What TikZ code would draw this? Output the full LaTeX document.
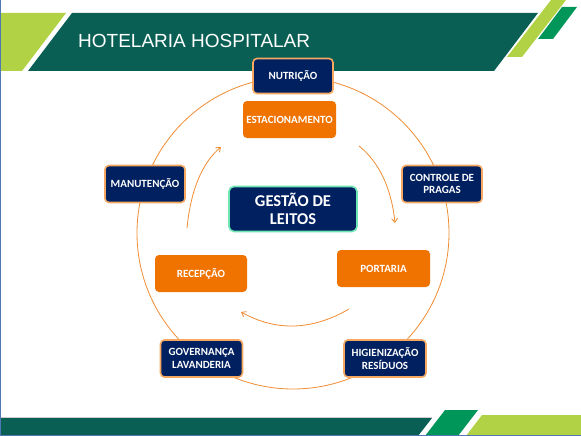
\documentclass[tikz,border=0pt]{standalone}
\usepackage{fontspec}
\setmainfont{Carlito}
\newfontfamily\titlefont{Liberation Sans}
\usetikzlibrary{arrows.meta}
\definecolor{teal}{RGB}{10,95,85}
\definecolor{lgreen}{RGB}{176,210,68}
\definecolor{bgreen}{RGB}{0,150,90}
\definecolor{navy}{RGB}{0,32,96}
\definecolor{orng}{RGB}{240,115,0}
\definecolor{oborder}{RGB}{246,168,96}
\definecolor{oline}{RGB}{240,140,50}
\definecolor{mint}{RGB}{110,230,180}
\definecolor{sblue}{RGB}{79,120,180}
\tikzset{
  navybox/.style={draw=oborder, line width=1.6pt, fill=navy, rounded corners=4pt,
    text=white, font=\bfseries\fontsize{11}{12.5}\selectfont, align=center,
    minimum width=80pt, minimum height=37pt, inner sep=1pt},
  orangebox/.style={fill=orng, rounded corners=4pt, text=white,
    font=\bfseries\fontsize{11}{12.5}\selectfont, align=center,
    minimum width=92pt, minimum height=37pt, inner sep=1pt},
  centerbox/.style={draw=mint, line width=1.6pt, fill=navy, rounded corners=5pt,
    text=white, font=\bfseries\fontsize{16.5}{17.5}\selectfont, align=center,
    minimum width=128pt, minimum height=45pt, inner sep=1pt},
  cyc/.style={draw=oline, line width=0.8pt},
  cycarrow/.style={draw=oline, line width=0.8pt, -{Straight Barb[length=4pt,width=6pt]}}
}
\begin{document}
\begin{tikzpicture}[x=1pt,y=-1pt]
\useasboundingbox (0,0) rectangle (581,436);
\fill[white] (0,0) rectangle (581,436);
% header
\fill[lgreen] (0,13) -- (66,13) -- (22,71) -- (0,71) -- cycle;
\fill[teal] (72,13) -- (538,13) -- (494,71) -- (28,71) -- cycle;
\fill[lgreen] (551,0) -- (566,0) -- (522,57) -- (507,57) -- cycle;
\fill[bgreen] (562,7) -- (577,7) -- (553,39) -- (538,39) -- cycle;
\node[anchor=base west, inner sep=0, text=white, font=\titlefont\fontsize{19}{21}\selectfont] (title) at (78,48) {HOTELARIA HOSPITALAR};
% footer
\draw[gray!40, line width=0.8pt] (0,417.5) -- (432,417.5);
\fill[teal] (0,418) -- (432,418) -- (418,436) -- (0,436) -- cycle;
\fill[bgreen] (445,410) -- (478,410) -- (458,436) -- (425,436) -- cycle;
\fill[lgreen] (482,415) -- (581,415) -- (581,436) -- (466,436) -- cycle;
\draw[sblue, line width=1.2pt] (0.6,0) -- (0.6,436);
\draw[sblue, line width=0.8pt] (0,435.6) -- (581,435.6);
% big circle
\coordinate (cc) at (293,233);
\draw[cyc] (cc) circle[radius=156];
% inner arrows
\coordinate (a1s) at (359,146);
\coordinate (a1e) at (395,223);
\coordinate (a2s) at (349,309);
\coordinate (a2e) at (241,312);
\coordinate (a3s) at (187,228);
\coordinate (a3e) at (221,147);
\draw[cycarrow] (a1s) .. controls (379.5,162.4) and (391.5,188.7) .. (a1e);
\draw[cycarrow] (a2s) .. controls (313,330) and (277,332) .. (a2e);
\draw[cycarrow] (a3s) .. controls (190.8,190) and (202,163) .. (a3e);
% nodes
\node[navybox, minimum width=80pt, minimum height=35pt] (nut) at (293,76) {NUTRIÇÃO};
\node[orangebox, minimum width=93pt] (est) at (289.5,119.5) {ESTACIONAMENTO};
\node[navybox] (man) at (145,184) {MANUTENÇÃO};
\node[navybox] (cp) at (442,184) {CONTROLE DE\\PRAGAS};
\node[centerbox] (gl) at (293,209) {GESTÃO DE\\LEITOS};
\node[orangebox] (rec) at (201,273.5) {RECEPÇÃO};
\node[orangebox, minimum width=93pt] (port) at (383.5,268.5) {PORTARIA};
\node[navybox, minimum width=82pt] (gov) at (201.5,358.5) {GOVERNANÇA\\LAVANDERIA};
\node[navybox, minimum width=82pt] (hig) at (385,358.5) {HIGIENIZAÇÃO\\RESÍDUOS};
\end{tikzpicture}
\end{document}
